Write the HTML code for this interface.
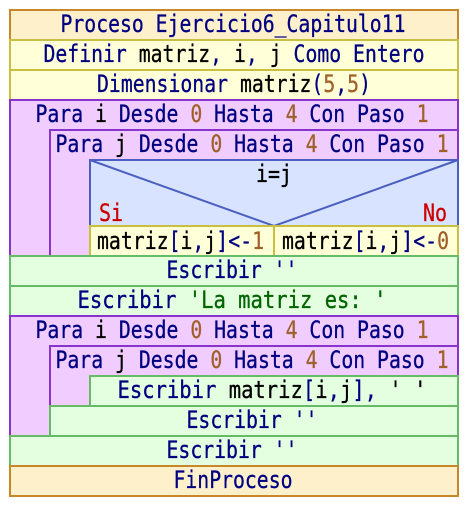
<!DOCTYPE html>
<html><head><meta charset="utf-8"><style>
html,body{margin:0;padding:0;background:#fff;width:468px;height:506px;overflow:hidden}
text{font-family:"DejaVu Sans Mono","Liberation Mono",monospace;font-size:24px;fill:#000080;stroke:#000080;stroke-width:0.3px}
.n{fill:#a0602a;stroke:#a0602a}.s{fill:#006400;stroke:#006400}.k{fill:#000;stroke:#000}.r{fill:#cc0000;stroke:#cc0000}
</style></head><body>
<svg width="468" height="506" xmlns="http://www.w3.org/2000/svg" font-size="24">
<g stroke-width="2">
<rect x="10" y="10" width="448" height="30" fill="#fff0cc" stroke="#c8882a"/>
<rect x="10" y="40" width="448" height="30" fill="#ffffd8" stroke="#c8c040"/>
<rect x="10" y="70" width="448" height="30" fill="#ffffd8" stroke="#c8c040"/>
<rect x="10" y="100" width="448" height="156" fill="#f0ccff" stroke="#8833cc"/>
<rect x="50" y="130" width="408" height="126" fill="#f0ccff" stroke="#8833cc"/>
<rect x="90" y="160" width="368" height="66" fill="#d8e4ff" stroke="#4a5fc0"/>
<polyline points="90,160 274,226 458,160" fill="none" stroke="#4a5fc0"/>
<rect x="90" y="226" width="184" height="30" fill="#ffffd8" stroke="#c8c040"/>
<rect x="274" y="226" width="184" height="30" fill="#ffffd8" stroke="#c8c040"/>
<rect x="10" y="256" width="448" height="30" fill="#e4ffe0" stroke="#66bb66"/>
<rect x="10" y="286" width="448" height="30" fill="#e4ffe0" stroke="#66bb66"/>
<rect x="10" y="316" width="448" height="120" fill="#f0ccff" stroke="#8833cc"/>
<rect x="50" y="346" width="408" height="60" fill="#f0ccff" stroke="#8833cc"/>
<rect x="90" y="376" width="368" height="30" fill="#e4ffe0" stroke="#66bb66"/>
<rect x="50" y="406" width="408" height="30" fill="#e4ffe0" stroke="#66bb66"/>
<rect x="10" y="436" width="448" height="30" fill="#e4ffe0" stroke="#66bb66"/>
<rect x="10" y="466" width="448" height="30" fill="#fff0cc" stroke="#c8882a"/>
</g>
<g text-anchor="middle">
<text x="233" y="32" textLength="345" lengthAdjust="spacingAndGlyphs">Proceso Ejercicio6_Capitulo11</text>
<text x="234" y="62" textLength="381" lengthAdjust="spacingAndGlyphs">Definir <tspan class="k">matriz</tspan>, <tspan class="k">i</tspan>, <tspan class="k">j</tspan> Como Entero</text>
<text x="234" y="92" textLength="274" lengthAdjust="spacingAndGlyphs">Dimensionar <tspan class="k">matriz</tspan>(<tspan class="n">5</tspan>,<tspan class="n">5</tspan>)</text>
<text x="232" y="122" textLength="393" lengthAdjust="spacingAndGlyphs">Para <tspan class="k">i</tspan> Desde <tspan class="n">0</tspan> Hasta <tspan class="n">4</tspan> Con Paso <tspan class="n">1</tspan></text>
<text x="252" y="152" textLength="393" lengthAdjust="spacingAndGlyphs">Para <tspan class="k">j</tspan> Desde <tspan class="n">0</tspan> Hasta <tspan class="n">4</tspan> Con Paso <tspan class="n">1</tspan></text>
<text x="274" y="182" class="k" textLength="36" lengthAdjust="spacingAndGlyphs">i=j</text>
<text x="232" y="278" textLength="131" lengthAdjust="spacingAndGlyphs">Escribir ''</text>
<text x="232" y="308" textLength="309" lengthAdjust="spacingAndGlyphs">Escribir <tspan class="s">'La matriz es: '</tspan></text>
<text x="232" y="338" textLength="393" lengthAdjust="spacingAndGlyphs">Para <tspan class="k">i</tspan> Desde <tspan class="n">0</tspan> Hasta <tspan class="n">4</tspan> Con Paso <tspan class="n">1</tspan></text>
<text x="252" y="368" textLength="393" lengthAdjust="spacingAndGlyphs">Para <tspan class="k">j</tspan> Desde <tspan class="n">0</tspan> Hasta <tspan class="n">4</tspan> Con Paso <tspan class="n">1</tspan></text>
<text x="272" y="398" textLength="309" lengthAdjust="spacingAndGlyphs">Escribir <tspan class="k">matriz</tspan>[<tspan class="k">i</tspan>,<tspan class="k">j</tspan>], <tspan class="k">' '</tspan></text>
<text x="252" y="428" textLength="131" lengthAdjust="spacingAndGlyphs">Escribir ''</text>
<text x="232" y="458" textLength="131" lengthAdjust="spacingAndGlyphs">Escribir ''</text>
<text x="233" y="488" textLength="119" lengthAdjust="spacingAndGlyphs">FinProceso</text>
</g>
<text x="99" y="221" class="r" textLength="24" lengthAdjust="spacingAndGlyphs">Si</text>
<text x="423" y="221" class="r" textLength="24" lengthAdjust="spacingAndGlyphs">No</text>
<text x="97" y="249" textLength="167" lengthAdjust="spacingAndGlyphs"><tspan class="k">matriz</tspan>[<tspan class="k">i</tspan>,<tspan class="k">j</tspan>]&lt;-<tspan class="n">1</tspan></text>
<text x="282" y="249" textLength="167" lengthAdjust="spacingAndGlyphs"><tspan class="k">matriz</tspan>[<tspan class="k">i</tspan>,<tspan class="k">j</tspan>]&lt;-<tspan class="n">0</tspan></text>
</svg>
</body></html>
